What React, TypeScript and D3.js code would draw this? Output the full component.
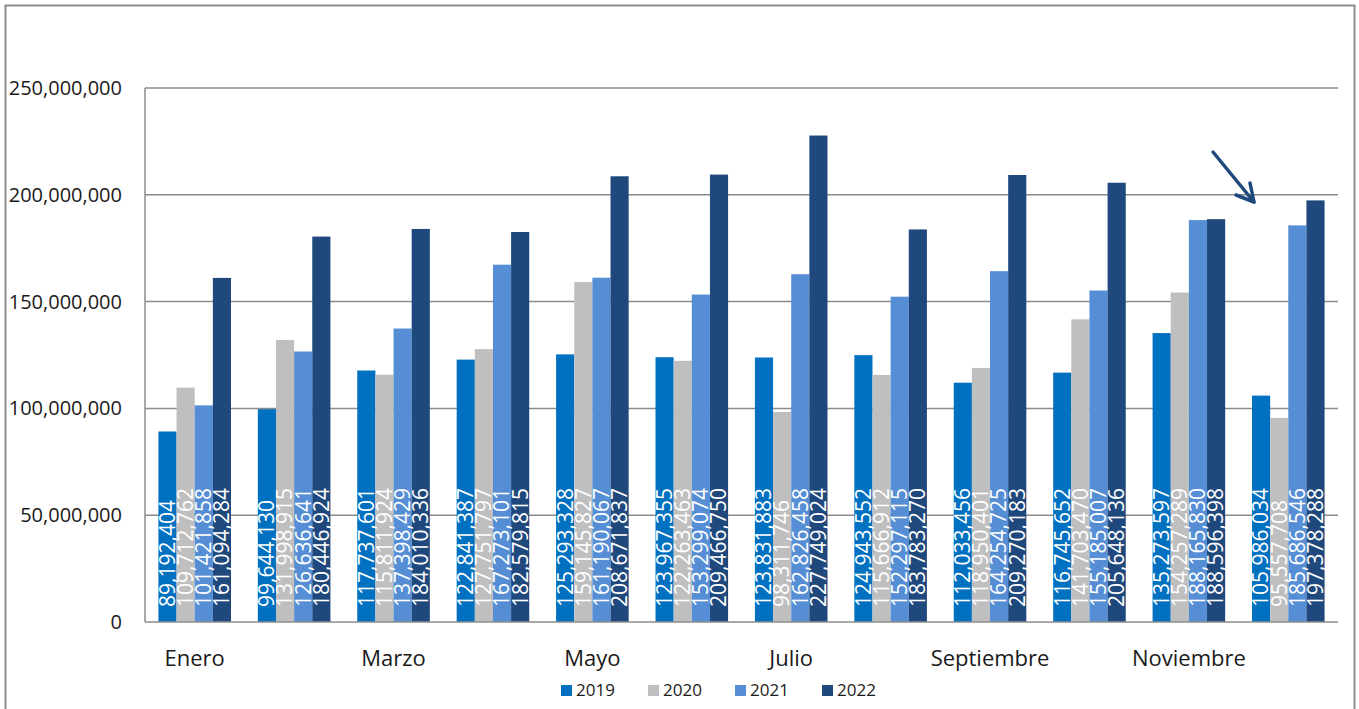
import React from 'react';
import * as d3 from 'd3';

const months = ['Enero', 'Febrero', 'Marzo', 'Abril', 'Mayo', 'Junio', 'Julio', 'Agosto', 'Septiembre', 'Octubre', 'Noviembre', 'Diciembre'];
const years = ['2019', '2020', '2021', '2022'];
const colors = ['#0070C0', '#BFBFBF', '#558ED5', '#1F497D'];

const values2019 = [89192404, 99644130, 117737601, 122841387, 125293328, 123967355, 123831883, 124943552, 112033456, 116745652, 135273597, 105986034];
const values2020 = [109712762, 131998915, 115811924, 127751797, 159145827, 122263463, 98311746, 115666912, 118950401, 141703470, 154257289, 95557708];
const values2021 = [101421858, 126636641, 137398429, 167273101, 161190067, 153299074, 162826458, 152297115, 164254725, 155185007, 188165830, 185686546];
const values2022 = [161094284, 180446924, 184010336, 182579815, 208671837, 209466750, 227749024, 183783270, 209270183, 205648136, 188596398, 197378288];
const series = [values2019, values2020, values2021, values2022];

const yTicks = [0, 50000000, 100000000, 150000000, 200000000, 250000000];

const W = 1359;
const H = 709;
const plot = { left: 145, right: 1338, top: 88, bottom: 622 };
const font = "'Open Sans', 'DejaVu Sans', sans-serif";

export default function App() {
  const x = d3.scaleBand<string>()
    .domain(months)
    .range([plot.left, plot.right])
    .paddingInner(0.27)
    .paddingOuter(0.135);
  const xInner = d3.scaleBand<string>()
    .domain(years)
    .range([0, x.bandwidth()]);
  const y = d3.scaleLinear()
    .domain([0, 250000000])
    .range([plot.bottom, plot.top]);
  const fmt = d3.format(',');

  return (
    <svg width={W} height={H} style={{ position: 'absolute', left: 0, top: 0, background: '#fff' }} fontFamily={font}>
      {/* outer frame */}
      <rect x={5.5} y={5.5} width={1349} height={720} fill="none" stroke="#8c8c8c" strokeWidth={2} />

      {/* grid lines */}
      {yTicks.filter(t => t > 0).map(t => (
        <line key={t} x1={plot.left} x2={plot.right} y1={y(t)} y2={y(t)} stroke="#8c8c8c" strokeWidth={1.5} />
      ))}
      {/* y axis tick labels */}
      {yTicks.map(t => (
        <text key={t} x={122} y={y(t)} dy="0.35em" textAnchor="end" fontSize={20} fill="#1a1a1a">{fmt(t)}</text>
      ))}

      {/* bars */}
      {months.map((m, i) => (
        <g key={m} transform={`translate(${x(m)},0)`}>
          {series.map((vals, s) => (
            <rect key={years[s]} x={xInner(years[s])} y={y(vals[i])} width={xInner.bandwidth()} height={y(0) - y(vals[i])} fill={colors[s]} />
          ))}
        </g>
      ))}

      {/* value labels */}
      {months.map((m, i) => series.map((vals, s) => {
        const cx = (x(m) ?? 0) + (xInner(years[s]) ?? 0) + xInner.bandwidth() / 2;
        const cy = y(0) - 15;
        return (
          <text key={m + years[s]} x={cx} y={cy} dy="0.35em" transform={`rotate(-90, ${cx}, ${cy})`} fontSize={21} fill="#fff">
            {fmt(vals[i])}
          </text>
        );
      }))}

      {/* axes */}
      <line x1={plot.left} x2={plot.left} y1={plot.top} y2={plot.bottom} stroke="#8c8c8c" strokeWidth={1.5} />
      <line x1={plot.left} x2={plot.right} y1={plot.bottom} y2={plot.bottom} stroke="#8c8c8c" strokeWidth={1.5} />

      {/* x labels, every second month */}
      {months.map((m, i) => i % 2 === 0 ? (
        <text key={m} x={(x(m) ?? 0) + x.bandwidth() / 2} y={666} textAnchor="middle" fontSize={22} fill="#1a1a1a">{m}</text>
      ) : null)}

      {/* legend */}
      {years.map((yr, s) => (
        <g key={yr} transform={`translate(${561 + s * 87},685)`}>
          <rect width={11} height={11} fill={colors[s]} />
          <text x={15} y={11} fontSize={17} fill="#1a1a1a">{yr}</text>
        </g>
      ))}

      {/* arrow */}
      <g stroke="#1F497D" strokeWidth={3.5} fill="none" strokeLinecap="round">
        <line x1={1213} y1={152} x2={1254} y2={202} />
        <polyline points="1250,183 1254,202 1236,195" strokeLinejoin="round" />
      </g>
    </svg>
  );
}
